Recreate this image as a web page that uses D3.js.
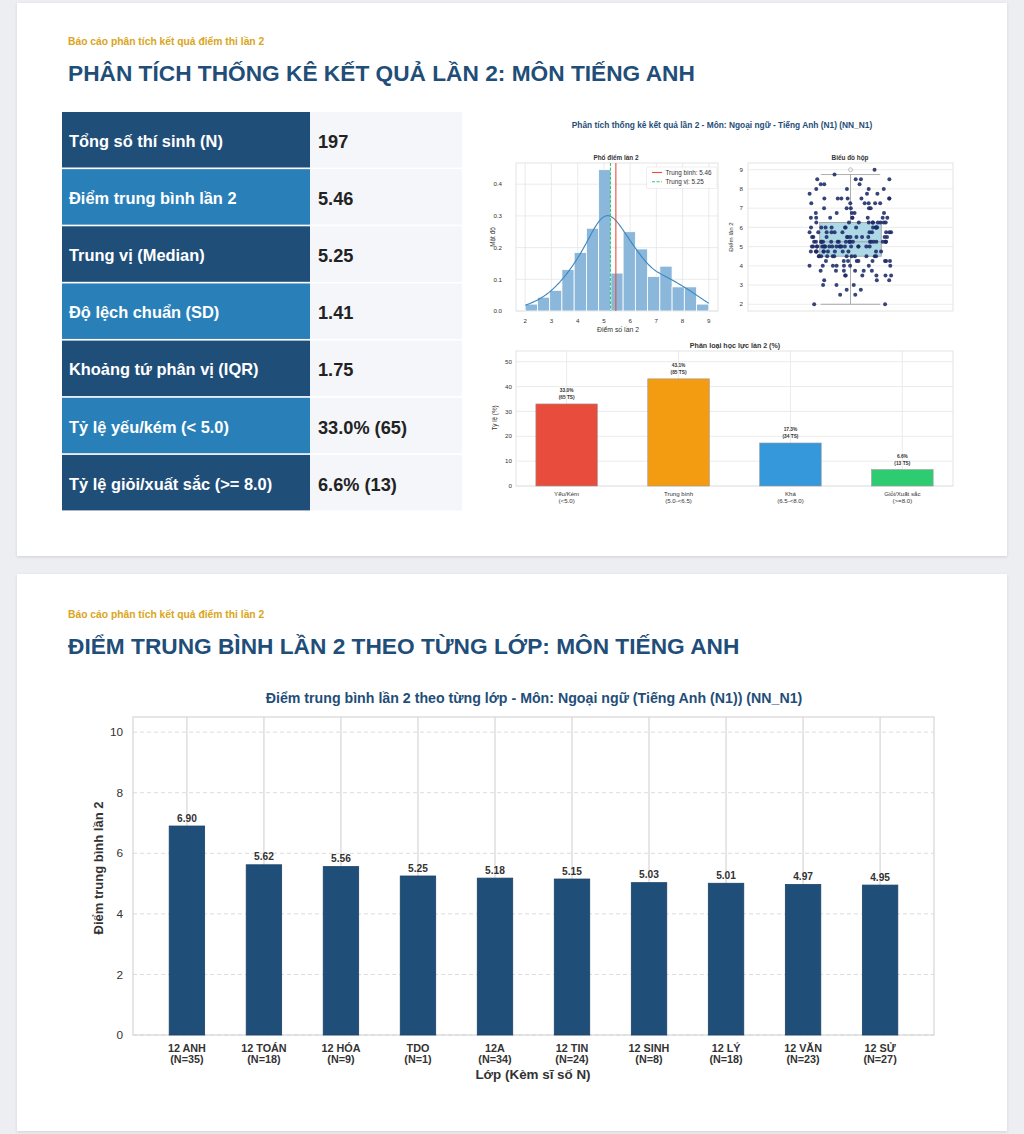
<!DOCTYPE html>
<html><head><meta charset="utf-8">
<script src="https://cdn.jsdelivr.net/npm/d3@7"></script>
<style>
body{margin:0;background:#eceef2;}
svg{display:block;font-family:"Liberation Sans",Arial,Helvetica,sans-serif;}
</style>
</head><body>
<svg id="c" width="1024" height="1134"></svg>
<script>
// ---------------- DATA ----------------
const reportSubtitle = "Báo cáo phân tích kết quả điểm thi lần 2";
const title1 = "PHÂN TÍCH THỐNG KÊ KẾT QUẢ LẦN 2: MÔN TIẾNG ANH";
const title2 = "ĐIỂM TRUNG BÌNH LẦN 2 THEO TỪNG LỚP: MÔN TIẾNG ANH";

const statLabels = ["Tổng số thí sinh (N)","Điểm trung bình lần 2","Trung vị (Median)","Độ lệch chuẩn (SD)","Khoảng tứ phân vị (IQR)","Tỷ lệ yếu/kém (< 5.0)","Tỷ lệ giỏi/xuất sắc (>= 8.0)"];
const statValues = ["197","5.46","5.25","1.41","1.75","33.0% (65)","6.6% (13)"];

// score distribution (score levels and number of candidates at each level)
const scoreLevels = [2.0,2.5,2.75,3.0,3.25,3.5,3.75,4.0,4.25,4.5,4.75,5.0,5.25,5.5,5.75,6.0,6.25,6.5,6.75,7.0,7.25,7.5,7.75,8.0,8.25,8.5,8.75,9.0];
const scoreCounts = [2,2,2,3,3,6,6,8,9,12,12,20,21,11,11,12,10,8,5,5,6,7,3,4,3,4,1,1];
const histBinCount = 15;
const histTicksX = [2,3,4,5,6,7,8,9];
const histTicksY = [0,0.1,0.2,0.3,0.4];
const boxTicksY = [2,3,4,5,6,7,8,9];

const suptitle = "Phân tích thống kê kết quả lần 2 - Môn: Ngoại ngữ - Tiếng Anh (N1) (NN_N1)";

const levelNames = ["Yếu/Kém","Trung bình","Khá","Giỏi/Xuất sắc"];
const levelRanges = ["(<5.0)","(5.0-<6.5)","(6.5-<8.0)","(>=8.0)"];
const levelPercents = [33.0,43.1,17.3,6.6];
const levelCounts = [65,85,34,13];
const levelColors = ["#e74c3c","#f39c12","#3498db","#2ecc71"];
const levelTicksY = [0,10,20,30,40,50];

const classNames = ["12 ANH","12 TOÁN","12 HÓA","TDO","12A","12 TIN","12 SINH","12 LÝ","12 VĂN","12 SỬ"];
const classN = [35,18,9,1,34,24,8,18,23,27];
const classMeans = [6.90,5.62,5.56,5.25,5.18,5.15,5.03,5.01,4.97,4.95];
const classTicksY = [0,2,4,6,8,10];
const classTitle = "Điểm trung bình lần 2 theo từng lớp - Môn: Ngoại ngữ (Tiếng Anh (N1)) (NN_N1)";

// ---------------- DRAW ----------------
const svg = d3.select("#c");
const NAVY = "#1f4e79";
const defs = svg.append("defs");
const f = defs.append("filter").attr("id","sh").attr("x","-5%").attr("y","-5%").attr("width","110%").attr("height","110%");
f.append("feDropShadow").attr("dx",0).attr("dy",1).attr("stdDeviation",1.5).attr("flood-color","#000").attr("flood-opacity",0.12);

svg.append("rect").attr("width",1024).attr("height",1134).attr("fill","#eceef2");
svg.append("rect").attr("x",17).attr("y",3).attr("width",990).attr("height",553).attr("fill","#fff").attr("filter","url(#sh)");
svg.append("rect").attr("x",17).attr("y",574).attr("width",990).attr("height",557).attr("fill","#fff").attr("filter","url(#sh)");

function header(y0, t){
  svg.append("text").attr("x",68).attr("y",y0).attr("font-size",10.3).attr("font-weight","bold").attr("fill","#d9a521").text(reportSubtitle);
  svg.append("text").attr("x",68).attr("y",y0+36).attr("font-size",22.7).attr("font-weight","bold").attr("fill",NAVY).text(t);
}
header(44.5, title1);
header(617.5, title2);

// ---- table ----
const rowStep = 57.15, rowH = 55.5;
statLabels.forEach((lab,i)=>{
  const y = 112 + i*rowStep;
  svg.append("rect").attr("x",62).attr("y",y).attr("width",248).attr("height",rowH).attr("fill", i%2===0 ? "#1f4e79" : "#2980b9");
  svg.append("rect").attr("x",310).attr("y",y).attr("width",152).attr("height",rowH).attr("fill","#f4f6fa");
  svg.append("text").attr("x",69).attr("y",y+rowH/2+7).attr("font-size",16.4).attr("font-weight","bold").attr("fill","#fff").text(lab);
  svg.append("text").attr("x",318).attr("y",y+rowH/2+8).attr("font-size",18.2).attr("font-weight","bold").attr("fill","#222").text(statValues[i]);
});

// ---- mini figure ----
svg.append("text").attr("x",722).attr("y",128).attr("text-anchor","middle").attr("font-size",8.35).attr("font-weight","bold").attr("fill",NAVY).text(suptitle);

const scores = [];
scoreLevels.forEach((v,i)=>{ for(let k=0;k<scoreCounts[i];k++) scores.push(v); });
const N = scores.length;
const TXT = "#333", GRID = "#e3e3e3", FRAME = "#d0d0d0";
const tick = 6.2;

// histogram
{
  const L=516,R=718,T=163,B=311;
  const x = d3.scaleLinear().domain([1.65,9.35]).range([L,R]);
  const y = d3.scaleLinear().domain([0,0.467]).range([B,T]);
  const g = svg.append("g");
  g.append("rect").attr("x",L).attr("y",T).attr("width",R-L).attr("height",B-T).attr("fill","#fff").attr("stroke",FRAME).attr("stroke-width",0.6);
  histTicksX.forEach(t=>g.append("line").attr("x1",x(t)).attr("x2",x(t)).attr("y1",T).attr("y2",B).attr("stroke",GRID).attr("stroke-width",0.7));
  histTicksY.forEach(t=>g.append("line").attr("x1",L).attr("x2",R).attr("y1",y(t)).attr("y2",y(t)).attr("stroke",GRID).attr("stroke-width",0.7));
  const lo=d3.min(scores), hi=d3.max(scores), w=(hi-lo)/histBinCount;
  const bins = d3.bin().domain([lo,hi]).thresholds(d3.range(1,histBinCount).map(k=>lo+k*w))(scores);
  g.selectAll(".hb").data(bins).join("rect")
    .attr("x",d=>x(d.x0)).attr("width",d=>x(d.x1)-x(d.x0))
    .attr("y",d=>y(d.length/(N*w))).attr("height",d=>B-y(d.length/(N*w)))
    .attr("fill","#8bb8da").attr("stroke","#fff").attr("stroke-width",0.8);
  // KDE (gaussian, Scott bandwidth) computed from scores
  const sd = d3.deviation(scores), bw = sd*Math.pow(N,-0.2);
  const xs = d3.range(0,201).map(k=>lo+(hi-lo)*k/200);
  const kde = xs.map(v=>[v, d3.sum(scores, s=>Math.exp(-0.5*((v-s)/bw)**2))/(N*bw*Math.sqrt(2*Math.PI))]);
  g.append("path").attr("d",d3.line().x(d=>x(d[0])).y(d=>y(d[1]))(kde)).attr("fill","none").attr("stroke","#3a87c0").attr("stroke-width",1.1);
  const mean = d3.mean(scores), med = d3.median(scores);
  g.append("line").attr("x1",x(mean)).attr("x2",x(mean)).attr("y1",T).attr("y2",B).attr("stroke","#e74c3c").attr("stroke-width",1.1);
  g.append("line").attr("x1",x(med)).attr("x2",x(med)).attr("y1",T).attr("y2",B).attr("stroke","#2ecc71").attr("stroke-width",1.1).attr("stroke-dasharray","3,1.6");
  // legend
  g.append("rect").attr("x",646.5).attr("y",167).attr("width",70.5).attr("height",21.5).attr("rx",1.5).attr("fill","#fff").attr("fill-opacity",0.85).attr("stroke","#ddd").attr("stroke-width",0.5);
  g.append("line").attr("x1",652).attr("x2",662).attr("y1",172.5).attr("y2",172.5).attr("stroke","#e74c3c").attr("stroke-width",1.1);
  g.append("line").attr("x1",652).attr("x2",662).attr("y1",181.8).attr("y2",181.8).attr("stroke","#2ecc71").attr("stroke-width",1.1).attr("stroke-dasharray","3,1.6");
  g.append("text").attr("x",665.5).attr("y",174.8).attr("font-size",6.3).attr("fill",TXT).text("Trung bình: "+d3.format(".2f")(mean));
  g.append("text").attr("x",665.5).attr("y",184.1).attr("font-size",6.3).attr("fill",TXT).text("Trung vị: "+d3.format(".2f")(med));
  histTicksX.forEach(t=>g.append("text").attr("x",x(t)).attr("y",323).attr("text-anchor","middle").attr("font-size",tick).attr("fill",TXT).text(t));
  histTicksY.forEach(t=>g.append("text").attr("x",502).attr("y",y(t)+2.2).attr("text-anchor","end").attr("font-size",tick).attr("fill",TXT).text(d3.format(".1f")(t)));
  g.append("text").attr("x",616).attr("y",160).attr("text-anchor","middle").attr("font-size",6.4).attr("font-weight","bold").attr("fill",TXT).text("Phổ điểm lần 2");
  g.append("text").attr("x",618).attr("y",331.5).attr("text-anchor","middle").attr("font-size",6.9).attr("fill",TXT).text("Điểm số lần 2");
  g.append("text").attr("transform","translate(494.5,237) rotate(-90)").attr("text-anchor","middle").attr("font-size",6.4).attr("fill",TXT).text("Mật độ");
}

// boxplot + strip
{
  const L=748,R=953,T=163,B=311;
  const x = d3.scaleLinear().domain([-0.5,0.5]).range([L,R]);
  const y = d3.scaleLinear().domain([1.65,9.35]).range([B,T]);
  const g = svg.append("g");
  g.append("rect").attr("x",L).attr("y",T).attr("width",R-L).attr("height",B-T).attr("fill","#fff").attr("stroke",FRAME).attr("stroke-width",0.6);
  boxTicksY.forEach(t=>g.append("line").attr("x1",L).attr("x2",R).attr("y1",y(t)).attr("y2",y(t)).attr("stroke",GRID).attr("stroke-width",0.7));
  const s = scores.slice().sort(d3.ascending);
  const q1=d3.quantile(s,0.25), q3=d3.quantile(s,0.75), md=d3.quantile(s,0.5), iqr=q3-q1;
  const wLo = d3.min(s.filter(v=>v>=q1-1.5*iqr)), wHi = d3.max(s.filter(v=>v<=q3+1.5*iqr));
  const outl = s.filter(v=>v<wLo||v>wHi);
  const bw=0.3, cw=0.145;
  g.append("line").attr("x1",x(0)).attr("x2",x(0)).attr("y1",y(wLo)).attr("y2",y(q1)).attr("stroke","#999").attr("stroke-width",0.8);
  g.append("line").attr("x1",x(0)).attr("x2",x(0)).attr("y1",y(q3)).attr("y2",y(wHi)).attr("stroke","#999").attr("stroke-width",0.8);
  [wLo,wHi].forEach(v=>g.append("line").attr("x1",x(-cw)).attr("x2",x(cw)).attr("y1",y(v)).attr("y2",y(v)).attr("stroke","#999").attr("stroke-width",0.8));
  g.append("rect").attr("x",x(-bw/2)).attr("width",x(bw/2)-x(-bw/2)).attr("y",y(q3)).attr("height",y(q1)-y(q3)).attr("fill","#add8e6").attr("stroke","#999").attr("stroke-width",0.8);
  g.append("line").attr("x1",x(-bw/2)).attr("x2",x(bw/2)).attr("y1",y(md)).attr("y2",y(md)).attr("stroke","#999").attr("stroke-width",0.8);
  outl.forEach(v=>g.append("circle").attr("cx",x(0)).attr("cy",y(v)).attr("r",2).attr("fill","none").attr("stroke","#999").attr("stroke-width",0.6));
  // deterministic hash-based jitter within +-0.2 of the category width (layout only)
  const jit = i => { const h = Math.sin((i+1)*12.9898)*43758.5453; return h - Math.floor(h); };
  g.selectAll(".pt").data(s).join("circle")
    .attr("cx",(d,i)=>x((jit(i)-0.5)*0.4))
    .attr("cy",d=>y(d)).attr("r",2).attr("fill","#1c2a66").attr("fill-opacity",0.88);
  boxTicksY.forEach(t=>g.append("text").attr("x",743).attr("y",y(t)+2.2).attr("text-anchor","end").attr("font-size",tick).attr("fill",TXT).text(t));
  g.append("text").attr("x",850).attr("y",159.5).attr("text-anchor","middle").attr("font-size",6.4).attr("font-weight","bold").attr("fill",TXT).text("Biểu đồ hộp");
  g.append("text").attr("transform","translate(733,237) rotate(-90)").attr("text-anchor","middle").attr("font-size",6.2).attr("fill",TXT).text("Điểm lần 2");
}

// classification bars
{
  const L=516,R=953,T=351,B=486;
  const x = d3.scaleLinear().domain([-0.4525,3.4525]).range([L,R]);
  const y = d3.scaleLinear().domain([0,54.3]).range([B,T]);
  const g = svg.append("g");
  g.append("rect").attr("x",L).attr("y",T).attr("width",R-L).attr("height",B-T).attr("fill","#fff").attr("stroke",FRAME).attr("stroke-width",0.6);
  levelNames.forEach((n,i)=>g.append("line").attr("x1",x(i)).attr("x2",x(i)).attr("y1",T).attr("y2",B).attr("stroke",GRID).attr("stroke-width",0.7));
  levelTicksY.forEach(t=>g.append("line").attr("x1",L).attr("x2",R).attr("y1",y(t)).attr("y2",y(t)).attr("stroke",GRID).attr("stroke-width",0.7));
  const bw=0.55;
  g.selectAll(".lb").data(levelPercents).join("rect")
    .attr("x",(d,i)=>x(i-bw/2)).attr("width",x(bw)-x(0))
    .attr("y",d=>y(d)).attr("height",d=>B-y(d))
    .attr("fill",(d,i)=>levelColors[i]).attr("stroke","#999").attr("stroke-width",0.6);
  levelPercents.forEach((p,i)=>{
    g.append("text").attr("x",x(i)).attr("y",y(p)-11.5).attr("text-anchor","middle").attr("font-size",4.8).attr("font-weight","bold").attr("fill",TXT).text(d3.format(".1f")(p)+"%");
    g.append("text").attr("x",x(i)).attr("y",y(p)-5).attr("text-anchor","middle").attr("font-size",4.8).attr("font-weight","bold").attr("fill",TXT).text("("+levelCounts[i]+" TS)");
    g.append("text").attr("x",x(i)).attr("y",496.3).attr("text-anchor","middle").attr("font-size",6.1).attr("fill",TXT).text(levelNames[i]);
    g.append("text").attr("x",x(i)).attr("y",503.3).attr("text-anchor","middle").attr("font-size",6.1).attr("fill",TXT).text(levelRanges[i]);
  });
  levelTicksY.forEach(t=>g.append("text").attr("x",512).attr("y",y(t)+2.2).attr("text-anchor","end").attr("font-size",tick).attr("fill",TXT).text(t));
  g.append("text").attr("x",735).attr("y",348).attr("text-anchor","middle").attr("font-size",7.1).attr("font-weight","bold").attr("fill",TXT).text("Phân loại học lực lần 2 (%)");
  g.append("text").attr("transform","translate(497,418) rotate(-90)").attr("text-anchor","middle").attr("font-size",6.3).attr("fill",TXT).text("Tỷ lệ (%)");
}

// ---- class means chart ----
{
  const L=133,R=934,T=717,B=1035;
  const x = d3.scaleLinear().domain([-0.7,9.7]).range([L,R]);
  const y = d3.scaleLinear().domain([0,10.5]).range([B,T]);
  const g = svg.append("g");
  g.append("text").attr("x",534).attr("y",703).attr("text-anchor","middle").attr("font-size",14.2).attr("font-weight","bold").attr("fill",NAVY).text(classTitle);
  g.append("rect").attr("x",L).attr("y",T).attr("width",R-L).attr("height",B-T).attr("fill","#fff");
  classTicksY.forEach(t=>g.append("line").attr("x1",L).attr("x2",R).attr("y1",y(t)).attr("y2",y(t)).attr("stroke","#dcdcdc").attr("stroke-width",1).attr("stroke-dasharray","4,3"));
  classNames.forEach((c,i)=>g.append("line").attr("x1",x(i)).attr("x2",x(i)).attr("y1",T).attr("y2",B).attr("stroke","#d2d2d2").attr("stroke-width",1.1));
  g.append("rect").attr("x",L).attr("y",T).attr("width",R-L).attr("height",B-T).attr("fill","none").attr("stroke","#d6d6d6").attr("stroke-width",1.2);
  const bw=0.46;
  g.selectAll(".cb").data(classMeans).join("rect")
    .attr("x",(d,i)=>x(i-bw/2)).attr("width",x(bw)-x(0))
    .attr("y",d=>y(d)).attr("height",d=>B-y(d))
    .attr("fill","#1f4e79").attr("stroke","#1a4268").attr("stroke-width",0.8);
  classMeans.forEach((m,i)=>{
    g.append("text").attr("x",x(i)).attr("y",y(m)-4.5).attr("text-anchor","middle").attr("font-size",10.2).attr("font-weight","bold").attr("fill","#333").text(d3.format(".2f")(m));
    g.append("text").attr("x",x(i)).attr("y",1052).attr("text-anchor","middle").attr("font-size",10.8).attr("font-weight","bold").attr("fill","#333").text(classNames[i]);
    g.append("text").attr("x",x(i)).attr("y",1063).attr("text-anchor","middle").attr("font-size",10.8).attr("font-weight","bold").attr("fill","#333").text("(N="+classN[i]+")");
  });
  classTicksY.forEach(t=>g.append("text").attr("x",123).attr("y",y(t)+4.2).attr("text-anchor","end").attr("font-size",11.8).attr("fill","#333").text(t));
  g.append("text").attr("x",533).attr("y",1079).attr("text-anchor","middle").attr("font-size",13.4).attr("font-weight","bold").attr("fill","#333").text("Lớp (Kèm sĩ số N)");
  g.append("text").attr("transform","translate(103,868) rotate(-90)").attr("text-anchor","middle").attr("font-size",13).attr("font-weight","bold").attr("fill","#333").text("Điểm trung bình lần 2");
}
</script>
</body></html>
